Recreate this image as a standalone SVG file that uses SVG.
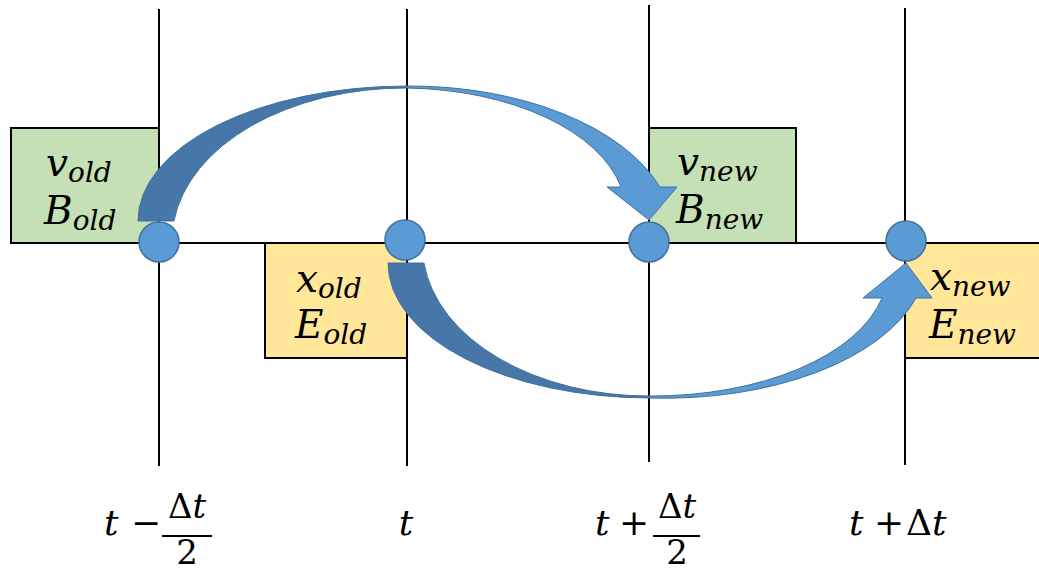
<svg xmlns="http://www.w3.org/2000/svg" width="1039" height="571" viewBox="0 0 1039 571">
<style>
.grid{stroke:#000;stroke-width:2;fill:none}
.gbox{fill:#C5E0B4;stroke:#000;stroke-width:2}
.ybox{fill:#FFE699;stroke:#000;stroke-width:2}
.dot{fill:#5B9BD5;stroke:#41719C;stroke-width:1.5}
.dark{fill:#4677A8;stroke:#41719C;stroke-width:1}
.light{fill:#5B9BD5;stroke:#41719C;stroke-width:1}
.m{font-family:"DejaVu Serif","Liberation Serif",serif;font-style:italic;font-size:39px;fill:#000}
.s{font-size:28px}
.lbl{font-family:"DejaVu Serif","Liberation Serif",serif;font-size:36px;fill:#000}
.fr{font-size:34px}
.it{font-style:italic}
</style>
<rect width="1039" height="571" fill="#fff"/>
<g id="box-vold"><rect class="gbox" x="11" y="128" width="148" height="115"/></g>
<g id="box-vnew"><rect class="gbox" x="649" y="128" width="147" height="115"/></g>
<g id="box-xold"><rect class="ybox" x="265" y="243" width="142" height="115"/></g>
<g id="box-xnew"><rect class="ybox" x="905" y="243" width="140" height="115"/></g>
<g id="grid">
<line class="grid" x1="11" y1="243" x2="1039" y2="243"/>
<line class="grid" x1="159" y1="9" x2="159" y2="466"/>
<line class="grid" x1="407" y1="9" x2="407" y2="466"/>
<line class="grid" x1="649" y1="5" x2="649" y2="462"/>
<line class="grid" x1="905" y1="8" x2="905" y2="465"/>
</g>
<g id="connectors">
<path class="dark" d="M138,221 A269 135 0 0 1 407,86 L407,88 A233 152 0 0 0 174,221 Z"/>
<path class="light" d="M407,86 A265 150 0 0 1 660,187 L677,187 L649,220 L607,187 L621,187 A225 125 0 0 0 407,88 Z"/>
<path class="dark" d="M388,263 A262 135 0 0 0 650,398 L650,396 A226 150 0 0 1 424,263 Z"/>
<path class="light" d="M650,398 A262 140 0 0 0 916,298 L932,298 L906,263 L863,298 L882,298 A235 125 0 0 1 650,396 Z"/>
</g>
<g id="node-1"><circle class="dot" cx="159" cy="242" r="20"/></g>
<g id="node-2"><circle class="dot" cx="405" cy="240" r="20"/></g>
<g id="node-3"><circle class="dot" cx="649" cy="242" r="20"/></g>
<g id="node-4"><circle class="dot" cx="906" cy="241" r="20"/></g>
<g id="text-vold">
<text class="m" x="46" y="176">v<tspan class="s" dy="6">old</tspan></text>
<text class="m" x="44" y="224">B<tspan class="s" dy="6">old</tspan></text>
</g>
<g id="text-vnew">
<text class="m" x="677" y="175">v<tspan class="s" dy="6">new</tspan></text>
<text class="m" x="676" y="223">B<tspan class="s" dy="6">new</tspan></text>
</g>
<g id="text-xold">
<text class="m" x="296" y="292">x<tspan class="s" dy="6">old</tspan></text>
<text class="m" x="295" y="338">E<tspan class="s" dy="6">old</tspan></text>
</g>
<g id="text-xnew">
<text class="m" x="930" y="290">x<tspan class="s" dy="6">new</tspan></text>
<text class="m" x="929" y="338">E<tspan class="s" dy="6">new</tspan></text>
</g>
<g id="label-1">
<text class="lbl it" x="104" y="535">t</text>
<text class="lbl" x="146" y="535" text-anchor="middle">−</text>
<line x1="162" y1="536" x2="212" y2="536" stroke="#000" stroke-width="2"/>
<text class="lbl fr" x="187" y="518" text-anchor="middle">Δ<tspan class="it">t</tspan></text>
<text class="lbl fr" x="187" y="564" text-anchor="middle">2</text>
</g>
<g id="label-2">
<text class="lbl it" x="406" y="535" text-anchor="middle">t</text>
</g>
<g id="label-3">
<text class="lbl it" x="595" y="535">t</text>
<text class="lbl" x="634" y="535" text-anchor="middle">+</text>
<line x1="653" y1="536" x2="700" y2="536" stroke="#000" stroke-width="2"/>
<text class="lbl fr" x="677" y="518" text-anchor="middle">Δ<tspan class="it">t</tspan></text>
<text class="lbl fr" x="677" y="564" text-anchor="middle">2</text>
</g>
<g id="label-4">
<text class="lbl it" x="849" y="535">t</text>
<text class="lbl" x="889" y="535" text-anchor="middle">+</text>
<text class="lbl" x="906" y="535">Δ<tspan class="it">t</tspan></text>
</g>
</svg>
